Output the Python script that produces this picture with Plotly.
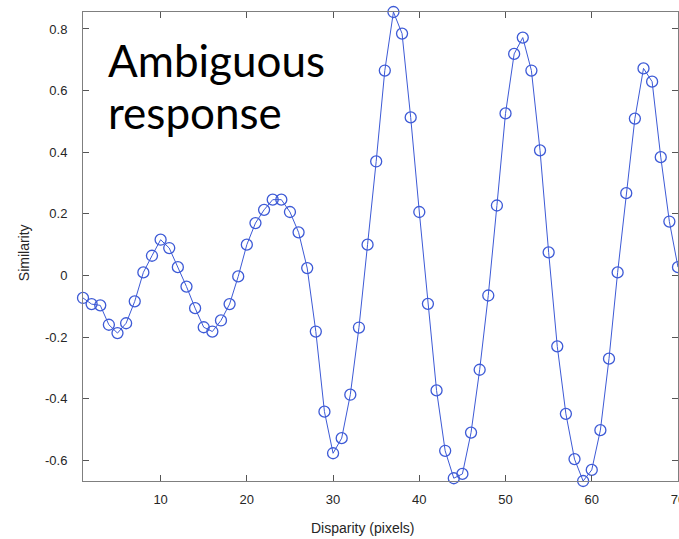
import plotly.graph_objects as go

# Disparity (pixels) and the similarity score measured at each disparity
disparity = list(range(1, 71))
similarity = [
    -0.073, -0.093, -0.097, -0.160, -0.187, -0.155, -0.084, 0.010, 0.064, 0.116,
    0.089, 0.027, -0.036, -0.106, -0.168, -0.182, -0.146, -0.093, -0.003, 0.100,
    0.170, 0.213, 0.246, 0.246, 0.206, 0.140, 0.024, -0.182, -0.442, -0.577,
    -0.528, -0.387, -0.169, 0.100, 0.370, 0.665, 0.855, 0.785, 0.513, 0.206,
    -0.092, -0.373, -0.569, -0.658, -0.644, -0.510, -0.306, -0.065, 0.227, 0.526,
    0.719, 0.772, 0.665, 0.406, 0.075, -0.230, -0.449, -0.596, -0.667, -0.631,
    -0.502, -0.270, 0.010, 0.267, 0.509, 0.672, 0.629, 0.384, 0.175, 0.027,
]

x_ticks = [10, 20, 30, 40, 50, 60, 70]
y_ticks = [-0.6, -0.4, -0.2, 0, 0.2, 0.4, 0.6, 0.8]
y_tick_text = ["-0.6", "-0.4", "-0.2", "0", "0.2", "0.4", "0.6", "0.8"]

BLUE = "#3d5ad6"
AXIS_FONT = dict(family="Liberation Sans, Arial, sans-serif", size=13, color="#262626")

fig = go.Figure(
    go.Scatter(
        x=disparity,
        y=similarity,
        mode="lines+markers",
        line=dict(color=BLUE, width=1),
        marker=dict(symbol="circle-open", size=11, color=BLUE, line=dict(width=1.3, color=BLUE)),
        cliponaxis=False,
        showlegend=False,
        hoverinfo="x+y",
    )
)

axis_common = dict(
    showline=True,
    linecolor="#7f7f7f",
    linewidth=1,
    mirror="ticks",
    ticks="inside",
    ticklen=6,
    tickwidth=1,
    tickcolor="#555555",
    showgrid=False,
    zeroline=False,
    tickfont=AXIS_FONT,
    ticklabeloverflow="allow",
    automargin=False,
)

fig.update_xaxes(
    range=[1, 70.001],
    tickvals=x_ticks,
    ticktext=[str(v) for v in x_ticks],
    ticklabelstandoff=6,
    **axis_common,
)
fig.update_yaxes(
    range=[min(similarity), max(similarity)],
    tickvals=y_ticks,
    ticktext=y_tick_text,
    ticklabelstandoff=12,
    **axis_common,
)

title_font = dict(family="Liberation Sans, Arial, sans-serif", size=14, color="#262626")
big_font = dict(family="Lato, Calibri, sans-serif", size=44, color="#000000")

fig.update_layout(
    width=679,
    height=539,
    margin=dict(l=83, r=1, t=12, b=58),
    paper_bgcolor="white",
    plot_bgcolor="white",
    annotations=[
        dict(text="Disparity (pixels)", xref="paper", yref="paper", x=0.469, y=-0.1,
             xanchor="center", yanchor="middle", showarrow=False, font=title_font),
        dict(text="Similarity", xref="paper", yref="paper", x=-0.099, y=0.486,
             xanchor="center", yanchor="middle", textangle=-90, showarrow=False, font=title_font),
        dict(text="Ambiguous", xref="paper", yref="paper", x=(106 - 83) / 595, y=(481 - 60) / 469,
             xanchor="left", yanchor="middle", showarrow=False, font=big_font),
        dict(text="response", xref="paper", yref="paper", x=(106 - 83) / 595, y=(481 - 112) / 469,
             xanchor="left", yanchor="middle", showarrow=False, font=big_font),
    ],
)

fig.write_html("out.html")
